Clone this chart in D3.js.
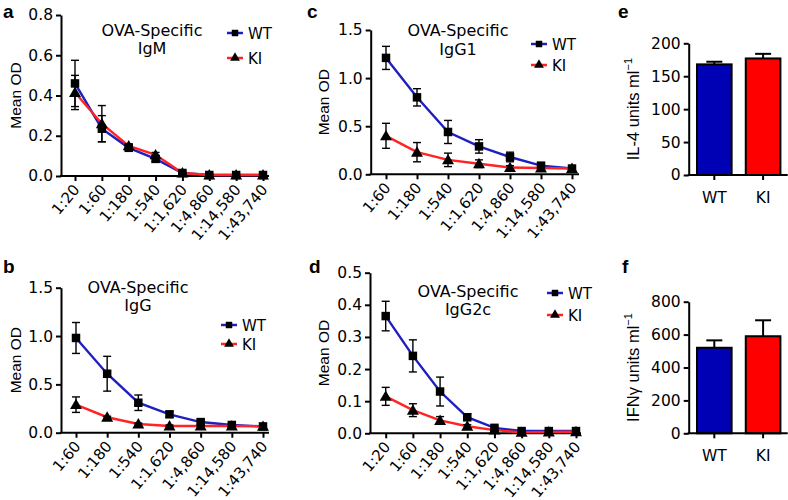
<!DOCTYPE html>
<html><head><meta charset="utf-8">
<script src="https://cdn.jsdelivr.net/npm/d3@7"></script>
<style>
body{margin:0;background:#fff;}
svg{display:block;}
</style></head>
<body>
<svg id="chart" width="788" height="500"></svg>
<script>
// ---------- data ----------
const dil8 = ["1:20","1:60","1:180","1:540","1:1,620","1:4,860","1:14,580","1:43,740"];
const dil7 = ["1:60","1:180","1:540","1:1,620","1:4,860","1:14,580","1:43,740"];

const igmWT     = [0.46, 0.235, 0.14, 0.085, 0.015, 0.005, 0.005, 0.005];
const igmWTErr  = [0.115,0.065, 0.01, 0.015, 0.005, 0.004, 0.004, 0.004];
const igmKI     = [0.415,0.26,  0.15, 0.105, 0.015, 0.005, 0.005, 0.005];
const igmKIErr  = [0.085,0.09,  0.01, 0.012, 0.005, 0.004, 0.004, 0.004];

const iggWT     = [0.98, 0.61, 0.31, 0.19, 0.11, 0.08, 0.065];
const iggWTErr  = [0.16, 0.18, 0.08, 0.03, 0.02, 0.02, 0.01];
const iggKI     = [0.29, 0.16, 0.09, 0.07, 0.07, 0.07, 0.065];
const iggKIErr  = [0.08, 0.01, 0.01, 0.01, 0.01, 0.01, 0.01];

const igg1WT    = [1.21, 0.80, 0.44, 0.29, 0.18, 0.09, 0.06];
const igg1WTErr = [0.12, 0.09, 0.12, 0.07, 0.05, 0.02, 0.01];
const igg1KI    = [0.40, 0.23, 0.15, 0.11, 0.07, 0.065, 0.06];
const igg1KIErr = [0.13, 0.10, 0.07, 0.04, 0.02, 0.02, 0.01];

const igg2cWT    = [0.365, 0.241, 0.13, 0.05, 0.017, 0.007, 0.007, 0.007];
const igg2cWTErr = [0.046, 0.05, 0.045, 0.01, 0.005, 0.004, 0.004, 0.004];
const igg2cKI    = [0.115, 0.072, 0.04, 0.022, 0.01, 0.003, 0.004, 0.005];
const igg2cKIErr = [0.028, 0.02, 0.012, 0.005, 0.004, 0.003, 0.003, 0.003];

const groups   = ["WT","KI"];
const il4      = [168, 177];
const il4Err   = [4, 7];
const ifng     = [520, 590];
const ifngErr  = [45, 97];

const ticksA = [0,0.2,0.4,0.6,0.8];
const ticksB = [0,0.5,1.0,1.5];
const ticksD = [0,0.1,0.2,0.3,0.4,0.5];
const ticksE = [0,50,100,150,200];
const ticksF = [0,200,400,600,800];

// ---------- style ----------
const BLUE = "#1f1fc0", RED = "#ff2323";
const BAR_BLUE = "#0000b4", BAR_RED = "#ff0000";
const TF = "DejaVu Sans, sans-serif";
const LF = "Liberation Sans, Arial, sans-serif";

const svg = d3.select("#chart");

function styleAxis(g){
  g.selectAll("path.domain").attr("stroke","#000").attr("stroke-width",2);
  g.selectAll(".tick line").attr("stroke","#000").attr("stroke-width",2);
  g.selectAll(".tick text").attr("fill","#000").attr("font-family",TF).attr("font-size",15.5);
}

function marker(type, size){
  return d3.symbol().type(type === "square" ? d3.symbolSquare : d3.symbolTriangle).size(size)();
}

function linePanel(c){
  const g = svg.append("g");
  const x = d3.scalePoint().domain(c.cats).range(c.xRange).padding(0);
  const y = d3.scaleLinear().domain([0, c.yMax]).range(c.yRange);

  // y axis
  const ya = g.append("g").attr("transform",`translate(${c.axisX},0)`)
    .call(d3.axisLeft(y).tickValues(c.yTicks).tickFormat(d3.format(".1f")).tickSize(5).tickSizeOuter(0).tickPadding(3));
  styleAxis(ya);

  // x axis
  const xa = g.append("g").attr("transform",`translate(0,${c.yRange[0]})`)
    .call(d3.axisBottom(x).tickSize(5).tickSizeOuter(0));
  xa.select("path.domain").remove();
  styleAxis(xa);
  xa.selectAll(".tick text").attr("font-size",15)
    .attr("text-anchor","end").attr("dy",null).attr("y",0)
    .attr("transform","translate(5,14) rotate(-50)");
  g.append("line").attr("x1",c.axisX-1).attr("x2",c.axisEnd)
    .attr("y1",c.yRange[0]).attr("y2",c.yRange[0]).attr("stroke","#000").attr("stroke-width",2);

  const line = d3.line().x((d,i)=>x(c.cats[i])).y(d=>y(d));
  // lines
  c.series.forEach(s=>{
    g.append("path").datum(s.vals).attr("d",line).attr("fill","none")
      .attr("stroke",s.color).attr("stroke-width",2.4);
  });
  // error bars
  c.series.forEach(s=>{
    const eb = g.append("g").attr("stroke","#000").attr("stroke-width",1.4);
    s.vals.forEach((v,i)=>{
      const cx = x(c.cats[i]), e = s.errs[i];
      eb.append("line").attr("x1",cx).attr("x2",cx).attr("y1",y(v-e)).attr("y2",y(v+e));
      [v-e, v+e].forEach(t=>{
        eb.append("line").attr("x1",cx-4).attr("x2",cx+4).attr("y1",y(t)).attr("y2",y(t));
      });
    });
  });
  // markers
  c.series.forEach(s=>{
    g.append("g").selectAll("path").data(s.vals).join("path")
      .attr("d", marker(s.marker, s.marker==="square"?72:62))
      .attr("transform",(d,i)=>`translate(${x(c.cats[i])},${y(d) + (s.marker==="square"?0:1)})`)
      .attr("fill","#000");
  });

  // title
  c.title.forEach((t,i)=>{
    g.append("text").attr("x",c.titleX).attr("y",c.titleY[i]).attr("text-anchor","middle")
      .attr("font-family",TF).attr("font-size",16).attr("fill","#000").text(t);
  });
  // legend
  c.series.forEach((s,i)=>{
    const ly = c.legY[i];
    g.append("line").attr("x1",c.legX).attr("x2",c.legX+16).attr("y1",ly).attr("y2",ly)
      .attr("stroke",s.color).attr("stroke-width",2.5);
    g.append("path").attr("d",marker(s.marker, 42))
      .attr("transform",`translate(${c.legX+8},${ly})`).attr("fill","#000");
    g.append("text").attr("x",c.legX+21).attr("y",ly+5.5).attr("font-family",TF)
      .attr("font-size",15).attr("fill","#000").text(s.name);
  });
  // y label
  const cy = (c.yRange[0]+c.yRange[1])/2;
  g.append("text").attr("transform",`translate(${c.ylabX},${cy}) rotate(-90)`)
    .attr("text-anchor","middle").attr("font-family",LF).attr("font-size",15.5)
    .attr("fill","#000").text("Mean OD");
  // panel letter
  g.append("text").attr("x",c.letter[1]).attr("y",c.letter[2]).attr("font-family",LF)
    .attr("font-weight","bold").attr("font-size",19).attr("fill","#000").text(c.letter[0]);
}

function barPanel(c){
  const g = svg.append("g");
  const x = d3.scaleBand().domain(groups).range([c.axisX, c.axisX+100]).paddingInner(0.29).paddingOuter(0.17);
  const y = d3.scaleLinear().domain([0, c.yMax]).range(c.yRange);
  // error bars (upper)
  const eb = g.append("g").attr("stroke","#000").attr("stroke-width",2);
  c.vals.forEach((v,i)=>{
    const cx = x(groups[i]) + x.bandwidth()/2;
    eb.append("line").attr("x1",cx).attr("x2",cx).attr("y1",y(v)).attr("y2",y(v+c.errs[i]));
    eb.append("line").attr("x1",cx-8).attr("x2",cx+8).attr("y1",y(v+c.errs[i])).attr("y2",y(v+c.errs[i]));
  });
  g.append("g").selectAll("rect").data(c.vals).join("rect")
    .attr("x",(d,i)=>x(groups[i])).attr("width",x.bandwidth())
    .attr("y",d=>y(d)).attr("height",d=>y(0)-y(d))
    .attr("fill",(d,i)=>c.colors[i]).attr("stroke","#000").attr("stroke-width",2);

  const ya = g.append("g").attr("transform",`translate(${c.axisX},0)`)
    .call(d3.axisLeft(y).tickValues(c.yTicks).tickFormat(d3.format("d")).tickSize(5).tickSizeOuter(0).tickPadding(3));
  styleAxis(ya);
  ya.selectAll(".tick text").attr("font-size",15.5);
  const xa = g.append("g").attr("transform",`translate(0,${c.yRange[0]})`)
    .call(d3.axisBottom(x).tickSize(5).tickSizeOuter(0).tickPadding(12));
  xa.select("path.domain").remove();
  styleAxis(xa);
  g.append("line").attr("x1",c.axisX-1).attr("x2",c.axisX+99).attr("y1",c.yRange[0]).attr("y2",c.yRange[0])
    .attr("stroke","#000").attr("stroke-width",2);

  const cy = (c.yRange[0]+c.yRange[1])/2;
  const t = g.append("text").attr("transform",`translate(${c.ylabX},${cy}) rotate(-90)`)
    .attr("text-anchor","middle").attr("font-family",LF).attr("font-size",16.5).attr("fill","#000");
  t.append("tspan").text(c.ylabel);
  t.append("tspan").attr("dy",-7).attr("font-size",11).text("−1");
  g.append("text").attr("x",c.letter[1]).attr("y",c.letter[2]).attr("font-family",LF)
    .attr("font-weight","bold").attr("font-size",19).attr("fill","#000").text(c.letter[0]);
}

// panel a
linePanel({cats:dil8, xRange:[75,263], yMax:0.8, yRange:[176,15], yTicks:ticksA,
  axisX:61, axisEnd:269,
  series:[{name:"WT",vals:igmWT,errs:igmWTErr,color:BLUE,marker:"square"},
          {name:"KI",vals:igmKI,errs:igmKIErr,color:RED,marker:"triangle"}],
  title:["OVA-Specific","IgM"], titleX:152, titleY:[36,54],
  legX:227, legY:[33,58], ylabX:21, letter:["a",3,18]});
// panel b
linePanel({cats:dil7, xRange:[76,263], yMax:1.5, yRange:[432.7,287.7], yTicks:ticksB,
  axisX:61, axisEnd:269,
  series:[{name:"WT",vals:iggWT,errs:iggWTErr,color:BLUE,marker:"square"},
          {name:"KI",vals:iggKI,errs:iggKIErr,color:RED,marker:"triangle"}],
  title:["OVA-Specific","IgG"], titleX:138, titleY:[293,311],
  legX:221, legY:[325,344], ylabX:21, letter:["b",3,273]});
// panel c
linePanel({cats:dil7, xRange:[386,572], yMax:1.5, yRange:[174.3,30], yTicks:ticksB,
  axisX:370.7, axisEnd:579,
  series:[{name:"WT",vals:igg1WT,errs:igg1WTErr,color:BLUE,marker:"square"},
          {name:"KI",vals:igg1KI,errs:igg1KIErr,color:RED,marker:"triangle"}],
  title:["OVA-Specific","IgG1"], titleX:458, titleY:[36,55],
  legX:531, legY:[44,65], ylabX:329, letter:["c",307,18]});
// panel d
linePanel({cats:dil8, xRange:[385.7,576], yMax:0.5, yRange:[433.3,272.7], yTicks:ticksD,
  axisX:370, axisEnd:581,
  series:[{name:"WT",vals:igg2cWT,errs:igg2cWTErr,color:BLUE,marker:"square"},
          {name:"KI",vals:igg2cKI,errs:igg2cKIErr,color:RED,marker:"triangle"}],
  title:["OVA-Specific","IgG2c"], titleX:468, titleY:[297,315],
  legX:547, legY:[293,315], ylabX:329, letter:["d",309,273]});
// panel e
barPanel({vals:il4, errs:il4Err, colors:[BAR_BLUE,BAR_RED], yMax:200, yRange:[175,43.3], yTicks:ticksE,
  axisX:688.7, ylabX:639, ylabel:"IL-4 units ml", letter:["e",618,18]});
// panel f
barPanel({vals:ifng, errs:ifngErr, colors:[BAR_BLUE,BAR_RED], yMax:800, yRange:[433.3,301.7], yTicks:ticksF,
  axisX:688.7, ylabX:639, ylabel:"IFNγ units ml", letter:["f",622,273]});
</script>
</body></html>
